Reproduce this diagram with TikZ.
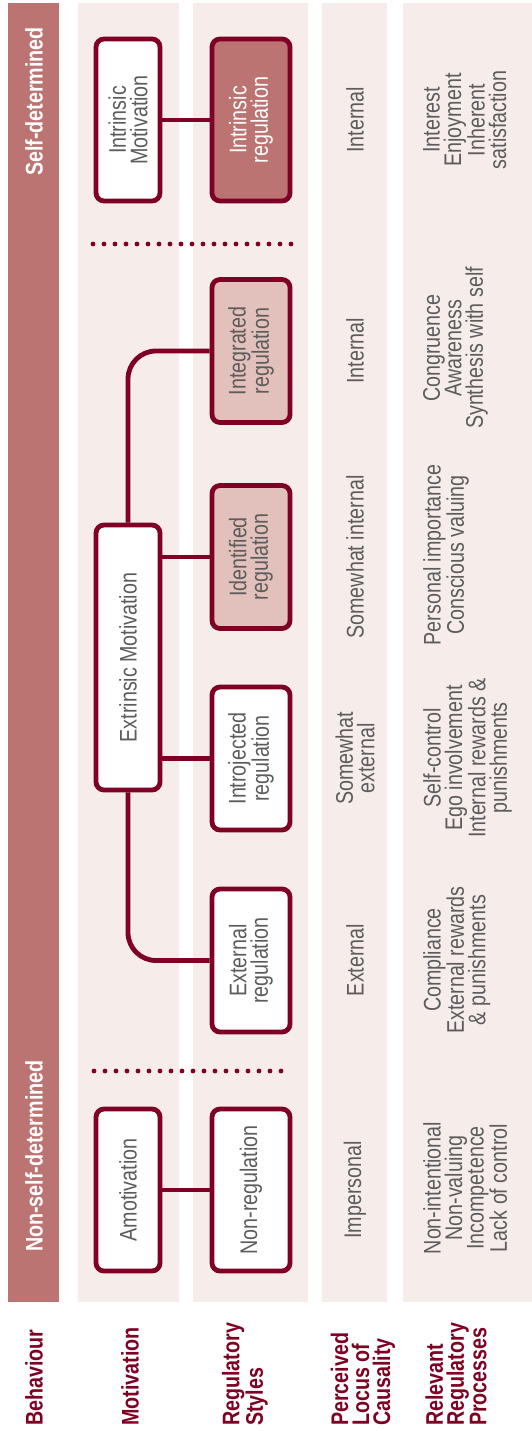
\documentclass[tikz,border=0pt]{standalone}
\usepackage{fontspec}
\setmainfont{Liberation Sans}[FakeStretch=0.82]
\usepackage{tikz}
\usetikzlibrary{positioning}
\usepackage{xcolor}
\definecolor{wine}{HTML}{7E0022}
\definecolor{rose}{HTML}{BC7473}
\definecolor{blush}{HTML}{E2C0BC}
\definecolor{band}{HTML}{F6ECEA}
\definecolor{txtgray}{HTML}{5C5C5C}

\begin{document}
\begin{tikzpicture}[x=1pt, y=-1pt,
  every node/.style={font=\fontsize{24}{21.5}\selectfont, text=txtgray, rotate=90, inner sep=0pt},
  box/.style={draw=wine, line width=4.8pt, rounded corners=8pt, fill=white, align=center},
  motbox/.style={box, minimum height=64pt},
  regbox/.style={box, minimum height=78pt, minimum width=143pt},
  link/.style={draw=wine, line width=4.8pt},
  dots/.style={wine, line width=4.8pt, line cap=round, dash pattern=on 0pt off 11pt},
  head/.style={font=\fontsize{24}{21}\selectfont\bfseries, text=wine, align=left, anchor=west},
  proc/.style={align=center, anchor=north}]
  \useasboundingbox (0,0) rectangle (532,1431);

  % bands
  \fill[rose] (8,3) rectangle (59,1302);
  \fill[band] (78,3) rectangle (179,1302);
  \fill[band] (193,3) rectangle (308,1302);
  \fill[band] (322,3) rectangle (387,1302);
  \fill[band] (403,3) rectangle (532,1302);

  \node[font=\fontsize{24}{21}\selectfont\bfseries, text=white, anchor=east] (selfdet) at (34, 27) {Self-determined};
  \node[font=\fontsize{24}{21}\selectfont\bfseries, text=white, anchor=west] (nonselfdet) at (34, 1252) {Non-self-determined};

  % boxes
  \node[motbox, minimum width=162pt] (intmot) at (128, 120) {Intrinsic\\Motivation};
  \node[regbox, fill=rose, text=white, minimum width=162pt] (intreg) at (251, 120) {Intrinsic\\regulation};
  \node[motbox, minimum width=265pt] (extmot) at (128, 657.5) {Extrinsic Motivation};
  \node[regbox, fill=blush] (integ) at (251, 351) {Integrated\\regulation};
  \node[regbox, fill=blush] (ident) at (251, 557) {Identified\\regulation};
  \node[regbox] (introj) at (251, 758.5) {Introjected\\regulation};
  \node[regbox] (extreg) at (251, 960.5) {External\\regulation};
  \node[motbox, minimum width=162pt] (amot) at (128, 1190) {Amotivation};
  \node[regbox, minimum width=162pt] (nonreg) at (251, 1190) {Non-regulation};

  \draw[link] (intmot) -- (intreg);
  \draw[link] (amot) -- (nonreg);
  \draw[link] (ident.north) -- (ident.north -| extmot.south);
  \draw[link] (introj.north) -- (introj.north -| extmot.south);
  \draw[link, rounded corners=28pt] (extmot.east) |- (integ.north);
  \draw[link, rounded corners=28pt] (extmot.west) |- (extreg.north);

  \coordinate (dotstopl) at (93, 244);
  \coordinate (dotstopr) at (293, 244);
  \coordinate (dotsbotl) at (94, 1071);
  \coordinate (dotsbotr) at (292, 1071);
  \draw[dots] (dotstopl) -- (dotstopr);
  \draw[dots] (dotsbotl) -- (dotsbotr);

  % locus of causality
  \node (locint) at (355, 120) {Internal};
  \node (locinteg) at (355, 351) {Internal};
  \node (locident) at (355, 557) {Somewhat internal};
  \node[align=center] (locintroj) at (355, 758.5) {Somewhat\\external};
  \node (locext) at (355, 960) {External};
  \node (locamot) at (355, 1190) {Impersonal};

  % regulatory processes
  \node[proc] (procint) at (423, 120) {Interest\\Enjoyment\\Inherent\\satisfaction};
  \node[proc] (procinteg) at (423, 348) {Congruence\\Awareness\\Synthesis with self};
  \node[proc] (procident) at (423, 555) {Personal importance\\Conscious valuing};
  \node[proc] (procintroj) at (423, 758) {Self-control\\Ego involvement\\Internal rewards \&\\punishments};
  \node[proc] (procext) at (423, 960) {Compliance\\External rewards\\\& punishments};
  \node[proc] (procamot) at (423, 1188) {Non-intentional\\Non-valuing\\Incompetence\\Lack of control};

  % row headers
  \node[head] (hbeh) at (34, 1426) {Behaviour};
  \node[head] (hmot) at (130, 1426) {Motivation};
  \node[head] (hreg) at (245, 1426) {Regulatory\\Styles};
  \node[head] (hloc) at (363, 1426) {Perceived\\Locus of\\Causality};
  \node[head] (hproc) at (456, 1426) {Relevant\\Regulatory\\Processes};
\end{tikzpicture}
\end{document}
